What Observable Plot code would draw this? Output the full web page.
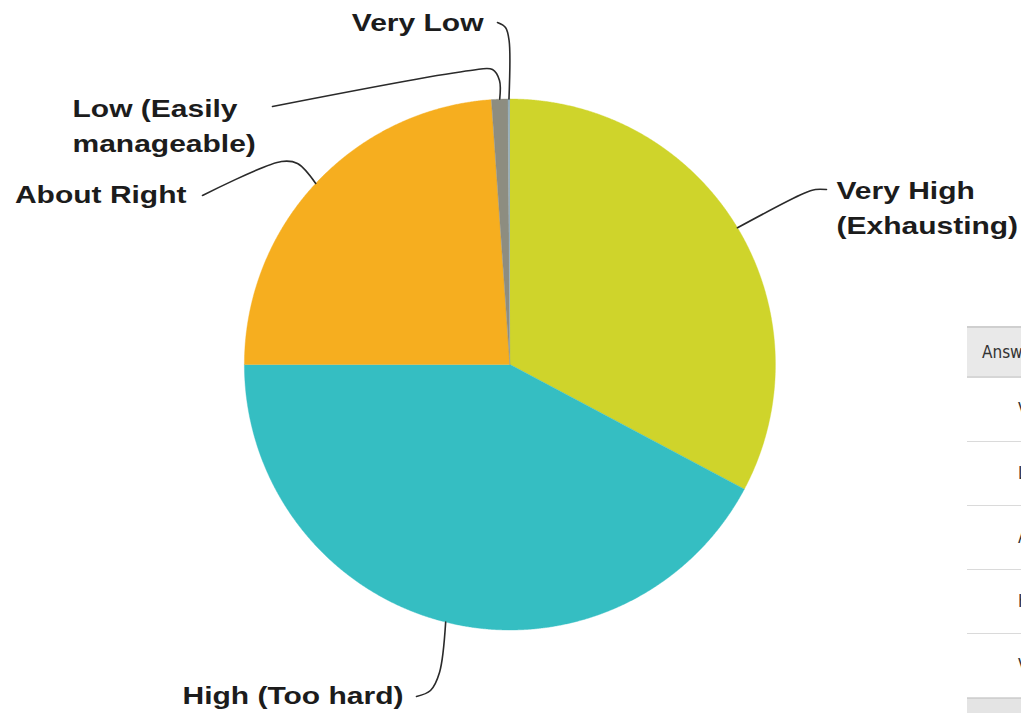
<!DOCTYPE html>
<html><head><meta charset="utf-8">
<script src="https://cdn.jsdelivr.net/npm/d3@7"></script>
<script src="https://cdn.jsdelivr.net/npm/@observablehq/plot@0.6"></script>
<style>
html,body{margin:0;padding:0;background:#fff;overflow:hidden;width:1021px;height:713px;}
#chart{position:absolute;left:0;top:0;}
#tbl{position:absolute;left:967px;top:326px;width:320px;font-family:"Liberation Sans Narrow","DejaVu Sans Condensed",sans-serif;color:#333;font-size:17px;}
#tbl .hd{height:48px;background:#e9e9e9;border-top:2px solid #cfcfcf;border-bottom:2px solid #d6d6d6;line-height:48px;padding-left:15px;}
#tbl .row{height:63px;border-bottom:1.5px solid #dadada;line-height:63px;padding-left:51px;white-space:nowrap;}
#tbl .ft{height:20px;background:#e4e4e4;border-top:1px solid #d0d0d0;}
</style></head><body>
<div id="chart"></div>
<div id="tbl"></div>
<script>
// ---- data ----
const categories = ["Very High (Exhausting)", "High (Too hard)", "About Right", "Low (Easily manageable)", "Very Low"];
const counts = [295, 380, 215, 9, 1];
const colors = ["#cfd42b", "#35bec2", "#f6ae1f", "#8d8d80", "#8fa9b5"];
const labelTexts = ["Very High\n(Exhausting)", "High (Too hard)", "About Right", "Low (Easily\nmanageable)", "Very Low"];
const tableHeader = "Answer";
const tableRows = ["Very Low", "Low (Easily manageable)", "About Right", "High (Too hard)", "Very High (Exhausting)"];

// ---- layout ----
const W = 1021, H = 713, CX = 509.4, CY = 364, R = 265.5;
const ux = px => (px - CX) / R, uy = py => (CY - py) / R;
const leaderLayout = [
  [[803,193],[815,189],[826,189]],
  [[439,672],[430,690],[416,696]],
  [[297,163],[281,161],[202,195]],
  [[499,80],[492,69],[470,70],[272,106]],
  [[508.6,40],[505,27],[497,22]]
];
const labelLayout = [
  {anchor:"start", x:836, y:204.5},
  {anchor:"end", x:403, y:692},
  {anchor:"end", x:186, y:191.5},
  {anchor:"start", x:72, y:122.5},
  {anchor:"end", x:483, y:19.5}
];

const arcs = d3.pie().sort(null).value(d => d)(counts);
const slices = arcs.flatMap((a, i) => {
  const n = Math.max(2, Math.ceil((a.endAngle - a.startAngle) / 0.004));
  const pts = [{cat: categories[i], x: 0, y: 0}];
  for (let k = 0; k <= n; k++) {
    const t = a.startAngle + (a.endAngle - a.startAngle) * k / n;
    pts.push({cat: categories[i], x: Math.sin(t), y: Math.cos(t)});
  }
  return pts;
});
const leaders = arcs.flatMap((a, i) => {
  const m = (a.startAngle + a.endAngle) / 2;
  return [{id: i, x: Math.sin(m), y: Math.cos(m)}]
    .concat(leaderLayout[i].map(([px, py]) => ({id: i, x: ux(px), y: uy(py)})));
});
const labels = labelTexts.map((t, i) => ({text: t, anchor: labelLayout[i].anchor, x: ux(labelLayout[i].x), y: uy(labelLayout[i].y)}));

const textOpts = {x: "x", y: "y", text: "text", lineAnchor: "middle", fontSize: 24, fontWeight: "bold",
  fontFamily: "'Liberation Sans', Arial, sans-serif", fill: "#1c1c1c", lineHeight: 1.45};

const chart = Plot.plot({
  width: W, height: H, margin: 0,
  x: {type: "linear", domain: [-CX / R, (W - CX) / R], range: [0, W], axis: null},
  y: {type: "linear", domain: [-(H - CY) / R, CY / R], range: [H, 0], axis: null},
  color: {domain: categories, range: colors, legend: false},
  marks: [
    Plot.line(slices, {x: "x", y: "y", z: "cat", fill: "cat", stroke: "cat", strokeWidth: 0.4, curve: "linear"}),
    Plot.line(leaders, {x: "x", y: "y", z: "id", curve: "catmull-rom", stroke: "#2a2a2a", strokeWidth: 1.6}),
    Plot.text(labels.filter(d => d.anchor === "start"), {...textOpts, textAnchor: "start"}),
    Plot.text(labels.filter(d => d.anchor === "end"), {...textOpts, textAnchor: "end"})
  ]
});
chart.querySelectorAll('g[aria-label="text"] text').forEach(t => {
  const tr = t.getAttribute("transform");
  if (tr) t.setAttribute("transform", tr + " scale(1.25,1)");
  else {
    const x = +t.getAttribute("x") || 0, y = +t.getAttribute("y") || 0;
    t.removeAttribute("x"); t.removeAttribute("y");
    t.setAttribute("transform", `translate(${x},${y}) scale(1.25,1)`);
  }
});
document.getElementById("chart").appendChild(chart);

const tbl = document.getElementById("tbl");
const hd = document.createElement("div"); hd.className = "hd"; hd.textContent = tableHeader; tbl.appendChild(hd);
tableRows.forEach(r => { const d = document.createElement("div"); d.className = "row"; d.textContent = r; tbl.appendChild(d); });
const ft = document.createElement("div"); ft.className = "ft"; tbl.appendChild(ft);
</script>
</body></html>
